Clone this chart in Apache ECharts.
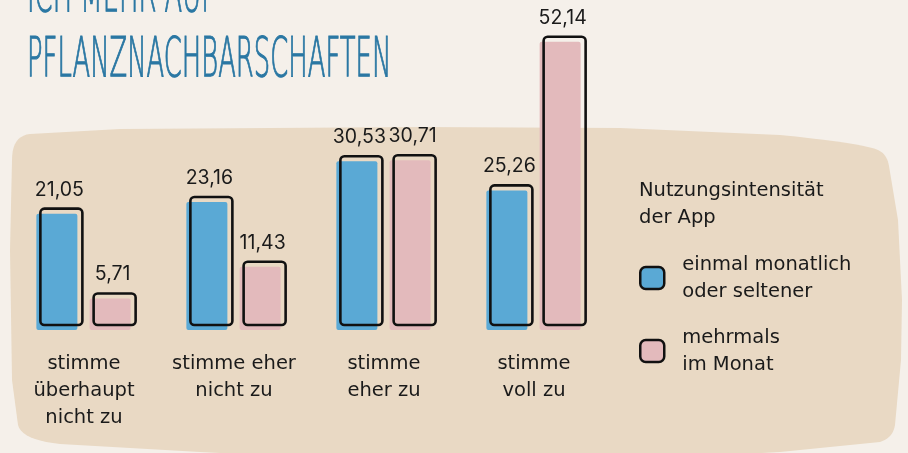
<!DOCTYPE html>
<html><head><meta charset="utf-8">
<script src="https://cdn.jsdelivr.net/npm/echarts@6/dist/echarts.min.js"></script>
<style>html,body{margin:0;padding:0;background:#f5f0ea;}#c{width:908px;height:453px;}</style>
</head><body><div id="c"></div>
<script>
const categories = ['stimme\nüberhaupt\nnicht zu', 'stimme eher\nnicht zu', 'stimme\neher zu', 'stimme\nvoll zu'];
const seriesNames = ['einmal monatlich\noder seltener', 'mehrmals\nim Monat'];
const valuesSelten = [21.05, 23.16, 30.53, 25.26];
const valuesMehrmals = [5.71, 11.43, 30.71, 52.14];
const titleLines = ['ICH MEHR AUF', 'PFLANZNACHBARSCHAFTEN'];
const legendTitle = 'Nutzungsintensität\nder App';

const colors = ['#5aa9d5', '#e3babc'];
const FONT = '"DejaVu Sans", sans-serif';
const NUMFONT = 'Inter, "DejaVu Sans", sans-serif';
const fmt = v => v.toFixed(2).replace('.', ',');

// background blob outline: straight points and quadratic corners [ctrl, end]
function blobPoints() {
  const segs = [
    ['M', [12, 160]], ['Q', [12, 136], [30, 134]], ['L', [120, 129]], ['L', [420, 127]], ['L', [620, 128]],
    ['L', [780, 135]], ['Q', [862, 143], [878, 150]], ['Q', [887, 154], [889, 166]], ['L', [898, 220]],
    ['L', [902, 300]], ['L', [901, 360]], ['L', [895, 425]], ['Q', [893, 438], [880, 442]], ['L', [780, 452]],
    ['L', [600, 462]], ['L', [400, 462]], ['L', [200, 452]], ['L', [60, 444]], ['Q', [22, 440], [18, 425]],
    ['L', [12, 380]], ['L', [10, 250]]
  ];
  const pts = [];
  let cur = null;
  segs.forEach(s => {
    if (s[0] === 'M' || s[0] === 'L') { cur = s[1]; pts.push(cur); }
    else {
      const c = s[1], e = s[2];
      for (let t = 0.1; t <= 1.0001; t += 0.1) {
        const a = (1 - t) * (1 - t), b = 2 * (1 - t) * t, d = t * t;
        pts.push([a * cur[0] + b * c[0] + d * e[0], a * cur[1] + b * c[1] + d * e[1]]);
      }
      cur = e;
    }
  });
  return pts;
}

function makeRender(sIdx, color) {
  return function (params, api) {
    const idx = api.value(0), v = api.value(1);
    const base = api.coord([idx, 0]);
    const top = api.coord([idx, v]);
    const cw = api.size([1, 0])[0];
    const bw = cw * 0.28, gap = cw * 0.075;
    const cx = base[0] + (sIdx === 0 ? -(gap / 2 + bw / 2) : (gap / 2 + bw / 2));
    const x = cx - bw / 2, h = base[1] - top[1];
    return {
      type: 'group', children: [
        { type: 'rect', shape: { x: x - 4, y: top[1] + 5, width: bw - 1, height: h, r: 2 }, style: { fill: color } },
        { type: 'rect', shape: { x: x, y: top[1], width: bw, height: h, r: 4 }, style: { fill: 'none', stroke: '#111', lineWidth: 2.6 } },
        { type: 'text', style: { text: fmt(v), x: cx - 2, y: top[1] - 9, align: 'center', verticalAlign: 'bottom', font: '19.5px ' + NUMFONT, fill: '#1a1a1a' } }
      ]
    };
  };
}

const chart = echarts.init(document.getElementById('c'), null, { renderer: 'canvas' });
chart.setOption({
  backgroundColor: '#f5f0ea',
  animation: false,
  graphic: [
    { type: 'polygon', z: -10, silent: true, shape: { points: blobPoints() }, style: { fill: '#e9d9c4' } },
    { type: 'text', x: 27, y: -3, scaleX: 0.47, style: { text: titleLines[0], font: '200 55px "DejaVu Sans"', fill: '#2a77a3', stroke: '#2a77a3', lineWidth: 1.2, verticalAlign: 'middle' } },
    { type: 'text', x: 27, y: 62, scaleX: 0.47, style: { text: titleLines[1], font: '200 55px "DejaVu Sans"', fill: '#2a77a3', stroke: '#2a77a3', lineWidth: 1.2, verticalAlign: 'middle' } },
    { type: 'text', x: 639, y: 177, style: { text: legendTitle, font: '19.5px ' + FONT, lineHeight: 27, fill: '#1a1a1a', verticalAlign: 'top' } }
  ],
  legend: {
    orient: 'vertical', left: 639, top: 251, padding: 0, itemWidth: 24, itemHeight: 22, itemGap: 19,
    icon: 'roundRect',
    itemStyle: { borderColor: '#111', borderWidth: 2.5 },
    textStyle: { fontFamily: FONT, fontSize: 19.5, lineHeight: 27, color: '#1a1a1a', padding: [0, 0, 0, 13] },
    data: seriesNames
  },
  grid: { left: 13, right: 295, top: 21, bottom: 128 },
  xAxis: {
    type: 'category', data: categories,
    axisLine: { show: false }, axisTick: { show: false }, splitLine: { show: false },
    axisLabel: { interval: 0, fontFamily: FONT, fontSize: 19.5, lineHeight: 27, color: '#1a1a1a', margin: 25, padding: [0, 8, 0, 0] }
  },
  yAxis: { type: 'value', min: 0, max: 55, show: false, splitLine: { show: false } },
  series: [
    { type: 'custom', name: seriesNames[0], itemStyle: { color: colors[0] }, encode: { x: 0, y: 1 },
      data: valuesSelten.map((v, i) => [i, v]), renderItem: makeRender(0, colors[0]) },
    { type: 'custom', name: seriesNames[1], itemStyle: { color: colors[1] }, encode: { x: 0, y: 1 },
      data: valuesMehrmals.map((v, i) => [i, v]), renderItem: makeRender(1, colors[1]) }
  ]
});
</script></body></html>
